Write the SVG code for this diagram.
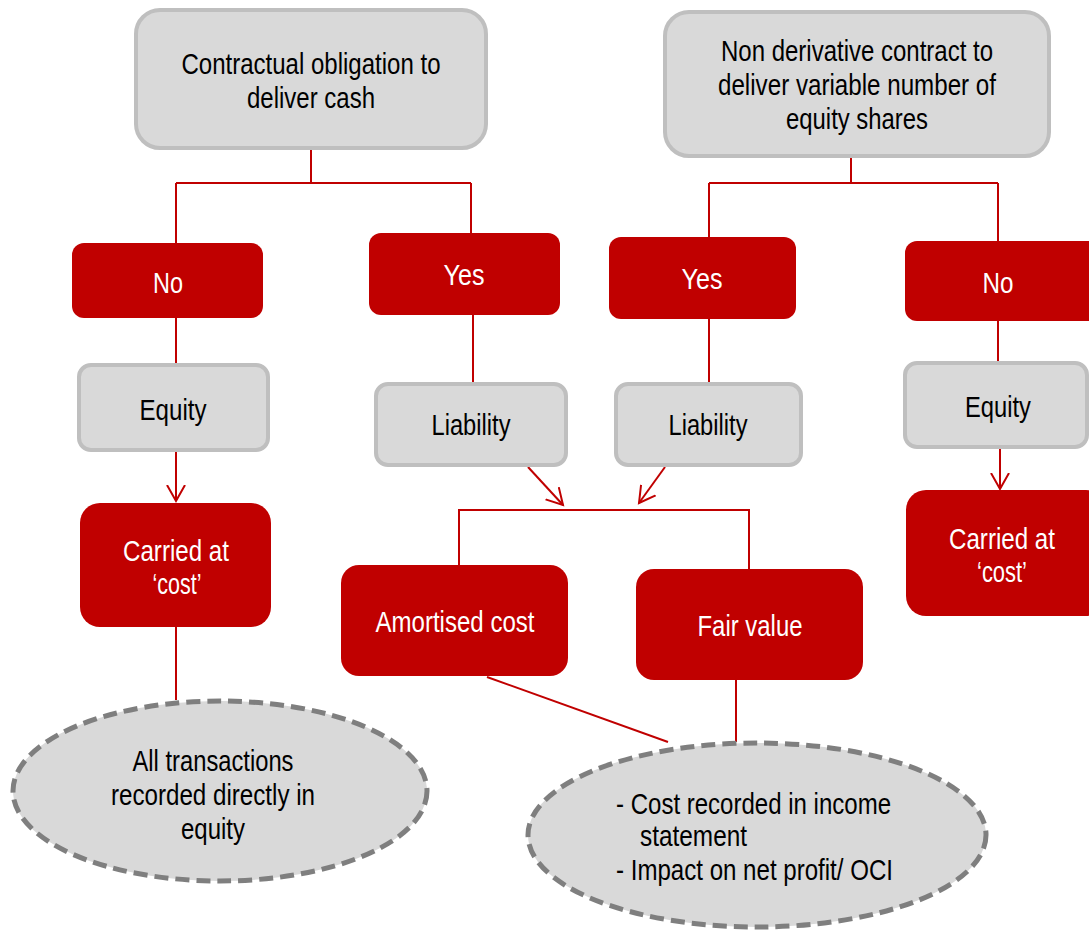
<svg xmlns="http://www.w3.org/2000/svg" width="1089" height="930" viewBox="0 0 1089 930">
<style>
.g{fill:#d9d9d9;stroke:#bfbfbf;stroke-width:4}
.r{fill:#c00000}
.e{fill:#d9d9d9;stroke:#7f7f7f;stroke-width:5;stroke-dasharray:14 7}
.c{fill:none;stroke:#c00000;stroke-width:2}
text{font-family:"Liberation Sans Narrow","Arial Narrow","Liberation Sans",sans-serif;font-size:29px;text-anchor:middle}
.w{fill:#ffffff}
.k{fill:#000000}
.s{text-anchor:start}
</style>
<defs>
<marker id="a" markerUnits="userSpaceOnUse" markerWidth="24" markerHeight="24" refX="16" refY="10" orient="auto" viewBox="0 0 24 20">
<path d="M0,1 L16,10 L0,19" fill="none" stroke="#c00000" stroke-width="2"/>
</marker>
</defs>
<g id="connectors">
<path class="c" d="M311,148 V183 M176,183 H471 M176,183 V243 M471,183 V233"/>
<path class="c" d="M851,156 V183 M709,183 H998 M709,183 V237 M998,183 V241"/>
<path class="c" d="M176,318 V365"/>
<path class="c" d="M176,450 V501" marker-end="url(#a)"/>
<path class="c" d="M176,627 V700"/>
<path class="c" d="M473,315 V384"/>
<path class="c" d="M709,319 V384"/>
<path class="c" d="M998,321 V363"/>
<path class="c" d="M1000,447 V489" marker-end="url(#a)"/>
<path class="c" d="M528,467 L563,505" marker-end="url(#a)"/>
<path class="c" d="M665,467 L639,503" marker-end="url(#a)"/>
<path class="c" d="M459,565 V510 H749 V569"/>
<path class="c" d="M487,677 L668,742"/>
<path class="c" d="M736,680 V742"/>
</g>
<g id="n-contract-cash">
<rect class="g" x="136" y="10" width="350" height="138" rx="24"/>
<text class="k" x="311" y="74" textLength="259" lengthAdjust="spacingAndGlyphs">Contractual obligation to</text>
<text class="k" x="311" y="108" textLength="128" lengthAdjust="spacingAndGlyphs">deliver cash</text>
</g>
<g id="n-nonderivative">
<rect class="g" x="665" y="12" width="384" height="144" rx="24"/>
<text class="k" x="857" y="61" textLength="272" lengthAdjust="spacingAndGlyphs">Non derivative contract to</text>
<text class="k" x="857" y="95" textLength="278" lengthAdjust="spacingAndGlyphs">deliver variable number of</text>
<text class="k" x="857" y="129" textLength="142" lengthAdjust="spacingAndGlyphs">equity shares</text>
</g>
<g id="n-no-left">
<rect class="r" x="72" y="243" width="191" height="75" rx="12"/>
<text class="w" x="168" y="293" textLength="30" lengthAdjust="spacingAndGlyphs">No</text>
</g>
<g id="n-yes-left">
<rect class="r" x="369" y="233" width="191" height="82" rx="12"/>
<text class="w" x="464" y="285" textLength="41" lengthAdjust="spacingAndGlyphs">Yes</text>
</g>
<g id="n-yes-right">
<rect class="r" x="609" y="237" width="187" height="82" rx="12"/>
<text class="w" x="702" y="289" textLength="41" lengthAdjust="spacingAndGlyphs">Yes</text>
</g>
<g id="n-no-right">
<rect class="r" x="905" y="241" width="195" height="80" rx="12"/>
<text class="w" x="998" y="293" textLength="31" lengthAdjust="spacingAndGlyphs">No</text>
</g>
<g id="n-equity-left">
<rect class="g" x="79" y="365" width="189" height="85" rx="12"/>
<text class="k" x="173" y="420" textLength="67" lengthAdjust="spacingAndGlyphs">Equity</text>
</g>
<g id="n-liability-left">
<rect class="g" x="376" y="384" width="190" height="81" rx="12"/>
<text class="k" x="471" y="435" textLength="79" lengthAdjust="spacingAndGlyphs">Liability</text>
</g>
<g id="n-liability-right">
<rect class="g" x="616" y="384" width="185" height="81" rx="12"/>
<text class="k" x="708" y="435" textLength="79" lengthAdjust="spacingAndGlyphs">Liability</text>
</g>
<g id="n-equity-right">
<rect class="g" x="905" y="363" width="182" height="84" rx="12"/>
<text class="k" x="998" y="417" textLength="66" lengthAdjust="spacingAndGlyphs">Equity</text>
</g>
<g id="n-carried-left">
<rect class="r" x="80" y="503" width="191" height="124" rx="20"/>
<text class="w" x="176" y="561" textLength="106" lengthAdjust="spacingAndGlyphs">Carried at</text>
<text class="w" x="177" y="594" textLength="49" lengthAdjust="spacingAndGlyphs">‘cost’</text>
</g>
<g id="n-carried-right">
<rect class="r" x="906" y="490" width="200" height="126" rx="20"/>
<text class="w" x="1002" y="549" textLength="106" lengthAdjust="spacingAndGlyphs">Carried at</text>
<text class="w" x="1002" y="582" textLength="50" lengthAdjust="spacingAndGlyphs">‘cost’</text>
</g>
<g id="n-amortised">
<rect class="r" x="341" y="565" width="227" height="111" rx="18"/>
<text class="w" x="455" y="632" textLength="159" lengthAdjust="spacingAndGlyphs">Amortised cost</text>
</g>
<g id="n-fairvalue">
<rect class="r" x="636" y="569" width="227" height="111" rx="18"/>
<text class="w" x="750" y="636" textLength="105" lengthAdjust="spacingAndGlyphs">Fair value</text>
</g>
<g id="n-equity-result">
<ellipse class="e" cx="220" cy="791" rx="207" ry="90"/>
<text class="k" x="213" y="771" textLength="161" lengthAdjust="spacingAndGlyphs">All transactions</text>
<text class="k" x="213" y="805" textLength="204" lengthAdjust="spacingAndGlyphs">recorded directly in</text>
<text class="k" x="213" y="839" textLength="64" lengthAdjust="spacingAndGlyphs">equity</text>
</g>
<g id="n-liability-result">
<ellipse class="e" cx="757" cy="835" rx="229" ry="92"/>
<text class="k s" x="616" y="814" textLength="275" lengthAdjust="spacingAndGlyphs">- Cost recorded in income</text>
<text class="k s" x="640" y="846" textLength="107" lengthAdjust="spacingAndGlyphs">statement</text>
<text class="k s" x="616" y="880" textLength="277" lengthAdjust="spacingAndGlyphs">- Impact on net profit/ OCI</text>
</g>
</svg>
